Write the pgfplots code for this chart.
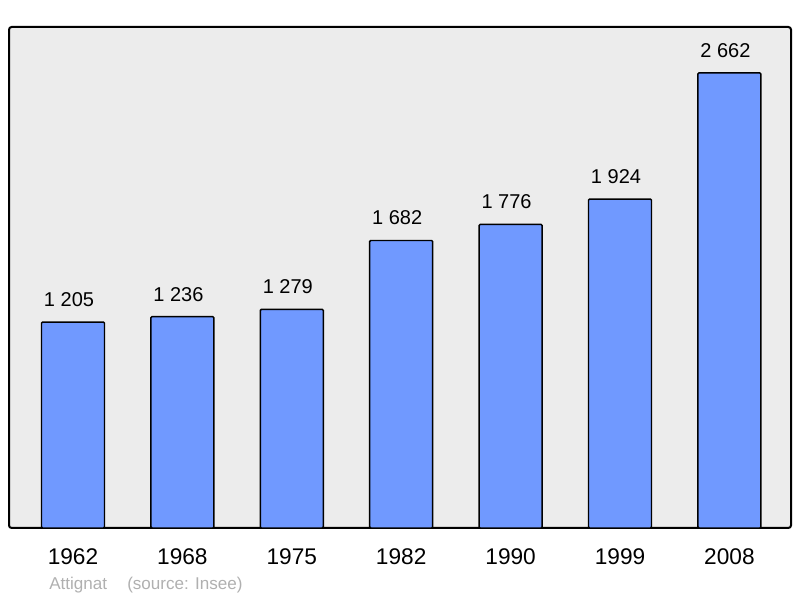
\documentclass[border=0pt]{standalone}
\usepackage{pgfplots}
\pgfplotsset{compat=1.18}
\usepackage{fontspec}
\setmainfont{Liberation Sans}
\definecolor{barblue}{RGB}{112,153,255}
\definecolor{bggray}{RGB}{236,236,236}
\definecolor{footgray}{RGB}{176,176,176}

\begin{document}
\begin{tikzpicture}
\begin{axis}[
  scale only axis,
  width=586.5pt, height=375.75pt,
  xmin=-0.585, xmax=6.563,
  ymin=0, ymax=2931,
  axis background/.style={fill=bggray},
  axis line style={line width=1.5pt, rounded corners=2pt},
  ybar, bar width=47.25pt,
  xtick=data,
  xticklabels={1962,1968,1975,1982,1990,1999,2008},
  ytick=\empty,
  major tick length=0pt,
  xticklabel style={font=\fontsize{17}{20}\selectfont, inner sep=0pt, anchor=north, yshift=-15pt},
  point meta=explicit symbolic,
  nodes near coords,
  every node near coord/.append style={font=\fontsize{15}{18}\selectfont, anchor=south, inner sep=0pt, yshift=11pt, xshift=-3pt},
]
\addplot[fill=barblue, draw=black, line width=1.1pt, rounded corners=0.8pt] coordinates {
  (0,1205) [1 205]
  (1,1236) [1 236]
  (2,1279) [1 279]
  (3,1682) [1 682]
  (4,1776) [1 776]
  (5,1924) [1 924]
  (6,2662) [2 662]
};
\end{axis}
\node[anchor=base west, inner sep=0pt, text=footgray, font=\fontsize{12.8}{15}\selectfont]
  at ([xshift=30pt, yshift=-46.5pt]current axis.south west) {Attignat};
\node[anchor=base west, inner sep=0pt, text=footgray, font=\fontsize{12.8}{15}\selectfont]
  at ([xshift=88.5pt, yshift=-46.5pt]current axis.south west) {(source: Insee)};
\useasboundingbox ([xshift=-6.75pt, yshift=-52.5pt]current axis.south west)
  rectangle ([xshift=6.75pt, yshift=20.25pt]current axis.north east);
\end{tikzpicture}
\end{document}
